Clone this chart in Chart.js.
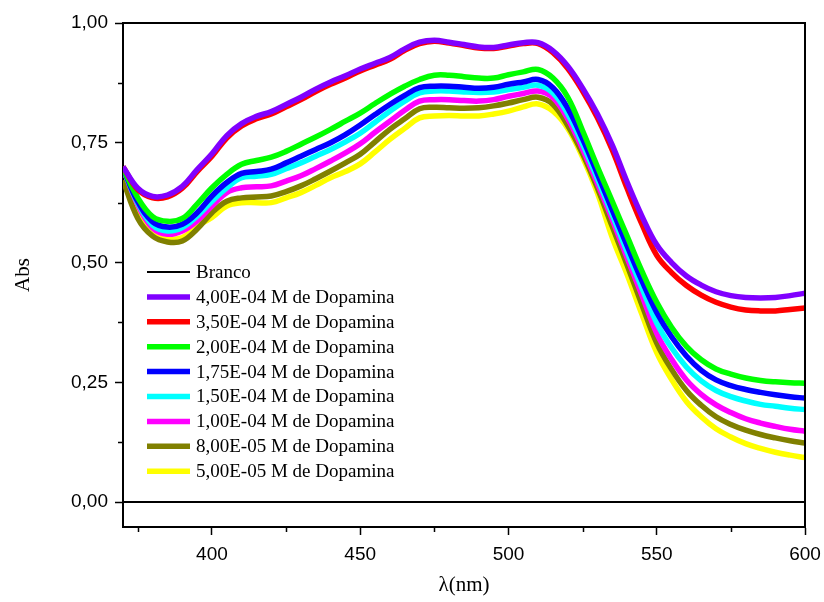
<!DOCTYPE html>
<html>
<head>
<meta charset="utf-8">
<script src="https://cdn.jsdelivr.net/npm/chart.js@4"></script>
<style>
  body { margin: 0; background: #fff; }
  canvas { display: block; }
</style>
</head>
<body>
<canvas id="absChart" width="824" height="602"></canvas>
<script>
// comprimento de onda (nm)
const lambda = [370, 375, 380, 385, 390, 395, 400, 405, 410, 415, 420, 425, 430, 435, 440, 445,
    450, 455, 460, 465, 470, 475, 480, 485, 490, 495, 500, 505, 510, 515, 520, 525, 530, 535,
    540, 545, 550, 555, 560, 565, 570, 575, 580, 585, 590, 595, 600];

const brancoX = [370, 600];
const branco = [0, 0];

const dopa400 = [0.700, 0.655, 0.638, 0.641, 0.659, 0.694, 0.727, 0.765, 0.790, 0.805, 0.815, 0.830,
    0.845, 0.862, 0.877, 0.890, 0.904, 0.916, 0.928, 0.946, 0.960, 0.964, 0.960, 0.955, 0.950,
    0.949, 0.954, 0.959, 0.959, 0.942, 0.910, 0.864, 0.810, 0.745, 0.668, 0.597, 0.537, 0.500,
    0.472, 0.453, 0.439, 0.431, 0.427, 0.426, 0.427, 0.431, 0.436];
const dopa350 = [0.700, 0.652, 0.635, 0.637, 0.655, 0.690, 0.722, 0.760, 0.785, 0.800, 0.810, 0.825,
    0.840, 0.857, 0.872, 0.885, 0.900, 0.912, 0.924, 0.943, 0.957, 0.962, 0.958, 0.953, 0.948,
    0.947, 0.952, 0.957, 0.957, 0.938, 0.905, 0.858, 0.802, 0.735, 0.655, 0.580, 0.515, 0.479,
    0.452, 0.432, 0.417, 0.407, 0.401, 0.399, 0.399, 0.402, 0.405];
const dopa200 = [0.697, 0.635, 0.596, 0.586, 0.592, 0.622, 0.656, 0.684, 0.705, 0.713, 0.720, 0.732,
    0.747, 0.762, 0.778, 0.795, 0.812, 0.832, 0.851, 0.868, 0.882, 0.891, 0.891, 0.888, 0.885,
    0.885, 0.892, 0.898, 0.903, 0.885, 0.845, 0.775, 0.700, 0.628, 0.555, 0.482, 0.417, 0.365,
    0.325, 0.297, 0.278, 0.267, 0.259, 0.254, 0.251, 0.249, 0.248];
const dopa175 = [0.697, 0.627, 0.585, 0.574, 0.580, 0.604, 0.639, 0.667, 0.686, 0.690, 0.695, 0.708,
    0.722, 0.736, 0.750, 0.767, 0.787, 0.809, 0.830, 0.849, 0.865, 0.868, 0.868, 0.866, 0.864,
    0.866, 0.872, 0.877, 0.882, 0.865, 0.822, 0.758, 0.685, 0.610, 0.535, 0.462, 0.396, 0.345,
    0.305, 0.275, 0.255, 0.243, 0.235, 0.229, 0.224, 0.220, 0.217];
const dopa150 = [0.697, 0.624, 0.578, 0.566, 0.573, 0.597, 0.628, 0.656, 0.677, 0.680, 0.684, 0.696,
    0.708, 0.722, 0.736, 0.752, 0.770, 0.793, 0.816, 0.837, 0.854, 0.858, 0.858, 0.856, 0.855,
    0.856, 0.861, 0.866, 0.870, 0.854, 0.810, 0.747, 0.675, 0.600, 0.522, 0.447, 0.374, 0.322,
    0.282, 0.253, 0.233, 0.220, 0.211, 0.204, 0.200, 0.196, 0.193];
const dopa100 = [0.697, 0.620, 0.572, 0.559, 0.566, 0.587, 0.618, 0.646, 0.656, 0.658, 0.660, 0.670,
    0.681, 0.696, 0.712, 0.729, 0.748, 0.772, 0.795, 0.818, 0.837, 0.840, 0.840, 0.838, 0.837,
    0.840, 0.847, 0.853, 0.858, 0.844, 0.800, 0.737, 0.665, 0.590, 0.510, 0.432, 0.352, 0.298,
    0.255, 0.225, 0.203, 0.187, 0.174, 0.165, 0.158, 0.152, 0.148];
const dopa080 = [0.672, 0.592, 0.555, 0.543, 0.545, 0.570, 0.604, 0.628, 0.635, 0.637, 0.639, 0.648,
    0.660, 0.675, 0.691, 0.708, 0.726, 0.752, 0.778, 0.800, 0.821, 0.824, 0.823, 0.822, 0.823,
    0.827, 0.833, 0.840, 0.845, 0.830, 0.786, 0.727, 0.655, 0.575, 0.495, 0.412, 0.332, 0.277,
    0.233, 0.202, 0.178, 0.162, 0.150, 0.141, 0.134, 0.128, 0.123];
const dopa050 = [0.700, 0.610, 0.562, 0.550, 0.552, 0.576, 0.594, 0.618, 0.625, 0.625, 0.625, 0.635,
    0.646, 0.661, 0.677, 0.690, 0.706, 0.731, 0.757, 0.780, 0.802, 0.806, 0.807, 0.806, 0.806,
    0.810, 0.816, 0.825, 0.831, 0.816, 0.780, 0.720, 0.645, 0.552, 0.475, 0.392, 0.312, 0.256,
    0.210, 0.178, 0.153, 0.136, 0.122, 0.112, 0.104, 0.098, 0.093];

const xTicks = [375, 400, 425, 450, 475, 500, 525, 550, 575, 600];
const yTicks = [0, 0.125, 0.25, 0.375, 0.5, 0.625, 0.75, 0.875, 1.0];

function pares(xs, ys) {
    return xs.map((x, i) => ({ x: x, y: ys[i] }));
}

function serie(label, ys, cor) {
    return {
        label: label,
        data: pares(lambda, ys),
        borderColor: cor,
        backgroundColor: cor,
        borderWidth: 5.5,
        pointRadius: 0,
        tension: 0.4,
        fill: false
    };
}

const isMajorX = v => v % 50 === 0;
const isMajorY = v => Math.abs(v / 0.25 - Math.round(v / 0.25)) < 1e-6;

// minor ticks, moldura e legenda
const extras = {
    id: 'extras',
    afterDraw(chart) {
        const ctx = chart.ctx;
        const a = chart.chartArea;
        const xs = chart.scales.x, ys = chart.scales.y;
        ctx.save();
        ctx.strokeStyle = '#000';
        ctx.lineWidth = 1.5;
        ctx.beginPath();
        xTicks.filter(v => !isMajorX(v)).forEach(v => {
            const p = Math.round(xs.getPixelForValue(v)) + 0.5;
            ctx.moveTo(p, a.bottom);
            ctx.lineTo(p, a.bottom + 5);
        });
        yTicks.filter(v => !isMajorY(v)).forEach(v => {
            const p = Math.round(ys.getPixelForValue(v)) + 0.5;
            ctx.moveTo(a.left, p);
            ctx.lineTo(a.left - 5, p);
        });
        ctx.stroke();

        // moldura topo / direita
        ctx.lineWidth = 2;
        ctx.beginPath();
        ctx.moveTo(a.left, a.top);
        ctx.lineTo(a.right, a.top);
        ctx.lineTo(a.right, a.bottom);
        ctx.stroke();

        // legenda
        const x0 = 147, x1 = 190, tx = 196;
        let y = 272;
        ctx.font = '19px "Liberation Serif", "Times New Roman", serif';
        ctx.textBaseline = 'middle';
        ctx.textAlign = 'left';
        chart.data.datasets.forEach(ds => {
            ctx.strokeStyle = ds.borderColor;
            ctx.lineWidth = ds.borderWidth;
            ctx.beginPath();
            ctx.moveTo(x0, y);
            ctx.lineTo(x1, y);
            ctx.stroke();
            ctx.fillStyle = '#000';
            ctx.fillText(ds.label, tx, y + 1);
            y += 24.9;
        });
        ctx.restore();
    }
};

const ctx = document.getElementById('absChart').getContext('2d');

new Chart(ctx, {
    type: 'line',
    data: {
        datasets: [
            {
                label: 'Branco',
                data: pares(brancoX, branco),
                borderColor: '#000000',
                backgroundColor: '#000000',
                borderWidth: 2,
                pointRadius: 0,
                tension: 0
            },
            serie('4,00E-04 M de Dopamina', dopa400, '#8000FF'),
            serie('3,50E-04 M de Dopamina', dopa350, '#FF0000'),
            serie('2,00E-04 M de Dopamina', dopa200, '#00FF00'),
            serie('1,75E-04 M de Dopamina', dopa175, '#0000FF'),
            serie('1,50E-04 M de Dopamina', dopa150, '#00FFFF'),
            serie('1,00E-04 M de Dopamina', dopa100, '#FF00FF'),
            serie('8,00E-05 M de Dopamina', dopa080, '#808000'),
            serie('5,00E-05 M de Dopamina', dopa050, '#FFFF00')
        ]
    },
    options: {
        responsive: false,
        animation: false,
        devicePixelRatio: 1,
        layout: { padding: { left: 0, right: 19, top: 23, bottom: 0 } },
        plugins: {
            legend: { display: false },
            tooltip: { enabled: false }
        },
        scales: {
            x: {
                type: 'linear',
                min: 370,
                max: 600,
                afterFit: s => { s.height = 75; s.paddingLeft = 0; s.paddingRight = 0; },
                afterBuildTicks: s => { s.ticks = xTicks.map(v => ({ value: v })); },
                grid: {
                    drawOnChartArea: false,
                    tickLength: 8,
                    tickWidth: 1.5,
                    tickColor: c => (c.tick && isMajorX(c.tick.value)) ? '#000' : 'rgba(0,0,0,0)'
                },
                border: { display: true, color: '#000', width: 2 },
                ticks: {
                    autoSkip: false,
                    maxRotation: 0,
                    padding: 8,
                    color: '#000',
                    font: { family: '"Liberation Sans", Arial, sans-serif', size: 19 },
                    callback: v => isMajorX(v) ? String(v) : ''
                },
                title: {
                    display: true,
                    text: 'λ(nm)',
                    color: '#000',
                    font: { family: '"Liberation Serif", "Times New Roman", serif', size: 21 },
                    padding: { top: 0, bottom: 4 }
                }
            },
            y: {
                min: -0.052,
                max: 1.0,
                afterFit: s => { s.width = 123; s.paddingTop = 0; s.paddingBottom = 0; },
                afterBuildTicks: s => { s.ticks = yTicks.map(v => ({ value: v })); },
                grid: {
                    drawOnChartArea: false,
                    tickLength: 8,
                    tickWidth: 1.5,
                    tickColor: c => (c.tick && isMajorY(c.tick.value)) ? '#000' : 'rgba(0,0,0,0)'
                },
                border: { display: true, color: '#000', width: 2 },
                ticks: {
                    autoSkip: false,
                    padding: 7,
                    color: '#000',
                    font: { family: '"Liberation Sans", Arial, sans-serif', size: 19 },
                    callback: v => isMajorY(v) ? v.toFixed(2).replace('.', ',') : ''
                },
                title: {
                    display: true,
                    text: 'Abs',
                    color: '#000',
                    font: { family: '"Liberation Serif", "Times New Roman", serif', size: 21 },
                    padding: { top: 11, bottom: 0 }
                }
            }
        }
    },
    plugins: [extras]
});
</script>
</body>
</html>
